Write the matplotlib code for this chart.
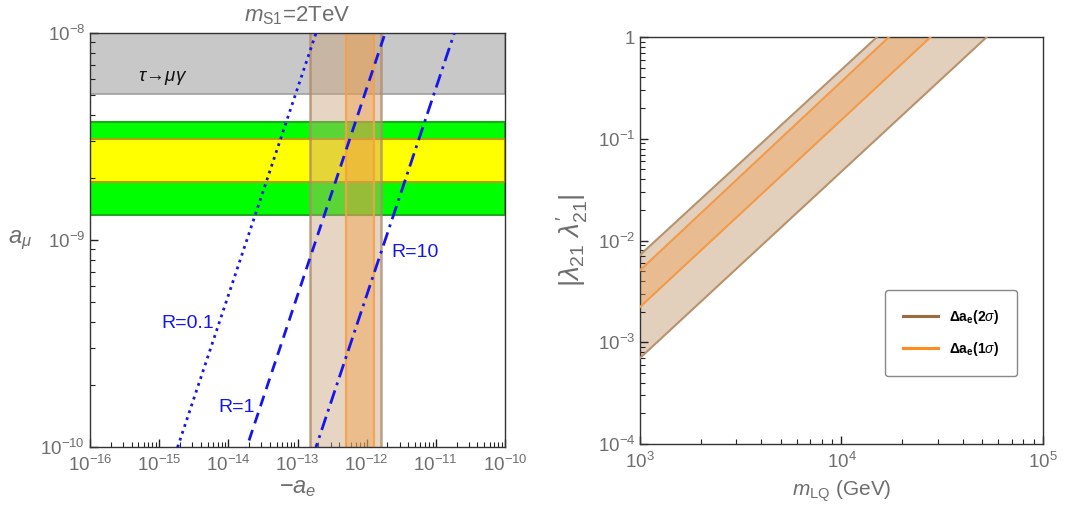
import numpy as np
import matplotlib
matplotlib.use('Agg')
import matplotlib.pyplot as plt
from matplotlib.ticker import LogLocator, FuncFormatter, NullFormatter
from matplotlib.lines import Line2D

plt.rcParams['font.family'] = ['Liberation Sans', 'DejaVu Sans']
plt.rcParams['mathtext.fontset'] = 'custom'
plt.rcParams['mathtext.rm'] = 'Liberation Sans'
plt.rcParams['mathtext.it'] = 'Liberation Sans:italic'
plt.rcParams['mathtext.bf'] = 'Liberation Sans:bold'

GRAY = '#6e6e6e'

# left panel: a_mu vs -a_e
tau_band = [5.1e-9, 1e-8]
amu_2sigma = [1.32e-9, 3.70e-9]
amu_1sigma = [1.91e-9, 3.07e-9]
ae_2sigma = [1.5e-13, 1.6e-12]
ae_1sigma = [5.0e-13, 1.26e-12]
R_values = [0.1, 1, 10]
R_ratio = [5.4e4, 5.4e3, 5.4e2]      # a_mu / (-a_e) along each R line
R_styles = [(0, (1, 1.6)), (0, (4, 2.5)), (0, (5, 2, 1, 2))]
R_label_pos = [(1.06e-15, 3.93e-10), (7.1e-15, 1.56e-10), (2.25e-12, 8.75e-10)]

# right panel: |lambda lambda'| vs m_LQ, band edges (m, value)
outer_lo_m, outer_lo_v = [1e3, 5.26e4], [7.0e-4, 1.0]
outer_hi_m, outer_hi_v = [1e3, 1.50e4], [7.2e-3, 1.0]
inner_lo_m, inner_lo_v = [1e3, 2.77e4], [2.22e-3, 1.0]
inner_hi_m, inner_hi_v = [1e3, 1.72e4], [5.1e-3, 1.0]


def style_axes(ax):
    ax.tick_params(which='both', direction='in', top=False, right=False,
                   colors='#222222', labelcolor=GRAY, labelsize=13.5)
    ax.tick_params(which='major', length=6, width=1.0)
    ax.tick_params(which='minor', length=3.5, width=0.8)
    ax.tick_params(axis='x', which='both', pad=6)
    for s in ax.spines.values():
        s.set_color('#333333')
        s.set_linewidth(1.0)


fig = plt.figure(figsize=(10.67, 5.08), dpi=100)

# ---------------- left ----------------
ax = fig.add_axes([90 / 1067, 1 - 447 / 508, 415 / 1067, 414 / 508])
ax.set_xscale('log')
ax.set_yscale('log')
ax.set_xlim(1e-16, 1e-10)
ax.set_ylim(1e-10, 1e-8)

ax.axhspan(tau_band[0], tau_band[1], facecolor='#c8c8c8', edgecolor='#a0a0a0', lw=1.2, zorder=1)
ax.axhspan(amu_2sigma[0], amu_2sigma[1], facecolor='#00ff00', edgecolor='#1fa81f', lw=1.5, zorder=1)
ax.axhspan(amu_1sigma[0], amu_1sigma[1], facecolor='#ffff00', edgecolor='#b4a000', lw=1.5, zorder=1)

ax.axvspan(ae_2sigma[0], ae_2sigma[1], facecolor='#c8a27a', alpha=0.45, edgecolor='none', zorder=2)
ax.axvspan(ae_1sigma[0], ae_1sigma[1], facecolor='#f59a3c', alpha=0.4, edgecolor='none', zorder=2)
for v in ae_2sigma:
    ax.axvline(v, color='#b08a68', lw=1.8, alpha=0.8, zorder=2)
for v in ae_1sigma:
    ax.axvline(v, color='#f5a04a', lw=1.6, alpha=0.9, zorder=2)

ae_line = np.array([1e-16, 1e-10])
for r, k, ls, pos in zip(R_values, R_ratio, R_styles, R_label_pos):
    ax.plot(ae_line, k * ae_line, color='#1515ee', lw=2.0, ls=ls, zorder=4)
    ax.text(pos[0], pos[1], 'R=%g' % r, color='#1515ee', fontsize=14, va='center', zorder=5)

ax.text(4.94e-16, 6.07e-9, r'$\tau\!\rightarrow\!\mu\gamma$', fontsize=13.5,
        color='#111111', va='center', zorder=5)

ax.xaxis.set_major_locator(LogLocator(base=10, numticks=10))
ax.xaxis.set_minor_locator(LogLocator(base=10, subs=np.arange(2, 10), numticks=20))
ax.xaxis.set_minor_formatter(NullFormatter())
ax.yaxis.set_minor_locator(LogLocator(base=10, subs=np.arange(2, 10), numticks=20))
ax.yaxis.set_minor_formatter(NullFormatter())
style_axes(ax)
ax.set_xlabel(r'$-a_e$', fontsize=17, color=GRAY)
ax.xaxis.set_label_coords(0.5, -0.072)
ax.set_ylabel(r'$a_\mu$', fontsize=17, color=GRAY, rotation=0, va='center', ha='center')
ax.yaxis.set_label_coords(-0.169, 0.5)
ax.set_title(r'$m_{\rm S1}$=2TeV', fontsize=16, color=GRAY, pad=8)

# ---------------- right ----------------
ax2 = fig.add_axes([640 / 1067, 1 - 444 / 508, 403 / 1067, 407 / 508])
ax2.set_xscale('log')
ax2.set_yscale('log')
ax2.set_xlim(1e3, 1e5)
ax2.set_ylim(1e-4, 1)

ax2.fill(outer_lo_m + outer_hi_m[::-1], outer_lo_v + outer_hi_v[::-1],
         facecolor='#c8a27a', alpha=0.5, edgecolor='none', zorder=1)
ax2.fill(inner_lo_m + inner_hi_m[::-1], inner_lo_v + inner_hi_v[::-1],
         facecolor='#f0a050', alpha=0.4, edgecolor='none', zorder=2)
ax2.plot(outer_lo_m, outer_lo_v, color='#b8926c', lw=1.5, zorder=3)
ax2.plot(outer_hi_m, outer_hi_v, color='#b8926c', lw=1.5, zorder=3)
ax2.plot(inner_lo_m, inner_lo_v, color='#f29a48', lw=1.5, zorder=3)
ax2.plot(inner_hi_m, inner_hi_v, color='#f29a48', lw=1.5, zorder=3)

ax2.xaxis.set_minor_locator(LogLocator(base=10, subs=np.arange(2, 10), numticks=20))
ax2.xaxis.set_minor_formatter(NullFormatter())
ax2.yaxis.set_minor_locator(LogLocator(base=10, subs=np.arange(2, 10), numticks=20))
ax2.yaxis.set_minor_formatter(NullFormatter())


def ytick_fmt(v, pos):
    e = int(round(np.log10(v)))
    if e == 0:
        return '1'
    return r'$10^{%d}$' % e


ax2.yaxis.set_major_formatter(FuncFormatter(ytick_fmt))
style_axes(ax2)
ax2.set_xlabel(r'$m_{\rm LQ}$ (GeV)', fontsize=15, color=GRAY)
ax2.xaxis.set_label_coords(0.5, -0.085)
ax2.set_ylabel(r"$|\lambda_{21}\ \lambda^{\prime}_{21}|$", fontsize=20, color=GRAY)
ax2.yaxis.set_label_coords(-0.124, 0.5)

handles = [Line2D([], [], color='#9c6b3f', lw=2.2),
           Line2D([], [], color='#ff8c1e', lw=2.2)]
labels = [r'$\mathbf{\Delta a_e(2}\sigma\mathbf{)}$', r'$\mathbf{\Delta a_e(1}\sigma\mathbf{)}$']
leg = ax2.legend(handles, labels, loc='upper left', bbox_to_anchor=(0.608, 0.378),
                 borderaxespad=0, fontsize=10, handlelength=2.5, handletextpad=0.8,
                 labelspacing=1.0, borderpad=1.3, fancybox=True, framealpha=1,
                 edgecolor='#888888')
leg.get_frame().set_linewidth(1.0)

fig.savefig('out.png', dpi=100)
